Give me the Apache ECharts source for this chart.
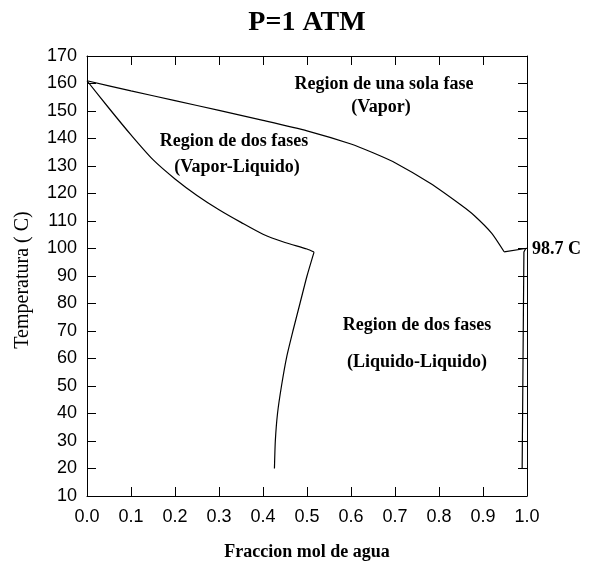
<!DOCTYPE html>
<html>
<head>
<meta charset="utf-8">
<script src="https://cdn.jsdelivr.net/npm/echarts@6/dist/echarts.min.js"></script>
<style>html,body{margin:0;padding:0;background:#fff}#c{width:592px;height:563px}</style>
</head>
<body>
<div id="c"></div>
<script>
// Vapor (dew) curve
const vaporX = [0, 0.1, 0.2, 0.3, 0.4, 0.5, 0.6, 0.65, 0.7, 0.78, 0.85, 0.88, 0.92, 0.948];
const vaporT = [161, 157.3, 153.8, 150.2, 146.6, 142.8, 138.0, 134.8, 131.2, 123.7, 115.8, 112.0, 105.5, 98.8];
// Segment from the vapor corner to the water boiling point
const vaporEndX = [0.948, 1.0];
const vaporEndT = [98.8, 100.1];
// Liquid (bubble) curve
const liqX = [0, 0.05, 0.1, 0.15, 0.2, 0.25, 0.3, 0.35, 0.4, 0.45, 0.5, 0.516];
const liqT = [161, 151, 141.3, 132.3, 125.3, 119.3, 114.1, 109.5, 105.2, 102.2, 99.8, 98.7];
// Liquid-liquid, organic-rich branch
const llLeftX = [0.516, 0.5, 0.484, 0.468, 0.454, 0.442, 0.433, 0.428, 0.426];
const llLeftT = [98.7, 90, 80, 70, 60.7, 50, 40, 30, 20];
// Liquid-liquid, water-rich branch
const llRightX = [0.989, 0.990, 0.991, 0.992, 0.993, 0.997];
const llRightT = [20, 40, 60, 80, 98.7, 100];

const zip = (a, b) => a.map((v, i) => [v, b[i]]);
const serif = "'Liberation Serif', 'DejaVu Serif', serif";
const sans = "'Liberation Sans', Arial, sans-serif";

const chart = echarts.init(document.getElementById('c'));
const lineStyle = { color: '#000', width: 1.2 };
const mkLine = (d, smooth) => ({ type: 'line', data: d, symbol: 'none', smooth: smooth || false, lineStyle, silent: true, animation: false });

const axisCommon = {
  axisLine: { show: true, onZero: false, lineStyle: { color: '#000', width: 1 } },
  axisTick: { show: true, inside: true, length: 9, lineStyle: { color: '#000' } },
  splitLine: { show: false }
};

chart.setOption({
  animation: false,
  grid: { left: 87, top: 56, width: 440, height: 440 },
  xAxis: [
    Object.assign({ type: 'value', min: 0, max: 1, interval: 0.1, position: 'bottom',
      axisLabel: { margin: 12, fontFamily: sans, fontSize: 18, color: '#000', formatter: v => v.toFixed(1) } }, axisCommon),
    Object.assign({ type: 'value', min: 0, max: 1, interval: 0.1, position: 'top',
      axisLabel: { show: false } }, axisCommon)
  ],
  yAxis: [
    Object.assign({ type: 'value', min: 10, max: 170, interval: 10, position: 'left',
      axisLabel: { margin: 10, fontFamily: sans, fontSize: 18, color: '#000' } }, axisCommon),
    Object.assign({ type: 'value', min: 10, max: 170, interval: 10, position: 'right',
      axisLabel: { show: false } }, axisCommon)
  ],
  series: [
    mkLine(zip(vaporX, vaporT), 0.2),
    mkLine(zip(vaporEndX, vaporEndT)),
    mkLine(zip(liqX, liqT), 0.25),
    mkLine(zip(llLeftX, llLeftT), 0.2),
    mkLine(zip(llRightX, llRightT))
  ],
  graphic: [
    { type: 'text', x: 307, y: 23, style: { text: 'P=1 ATM', font: 'bold 28px ' + serif, fill: '#000', textAlign: 'center', textVerticalAlign: 'middle' } },
    { type: 'text', x: 307, y: 552, style: { text: 'Fraccion mol de agua', font: 'bold 18px ' + serif, fill: '#000', textAlign: 'center', textVerticalAlign: 'middle' } },
    { type: 'text', x: 23, y: 280, rotation: Math.PI / 2, style: { text: 'Temperatura ( C)', font: '20px ' + serif, fill: '#000', textAlign: 'center', textVerticalAlign: 'middle' } },
    { type: 'text', x: 384, y: 84, style: { text: 'Region de una sola fase', font: 'bold 18px ' + serif, fill: '#000', textAlign: 'center', textVerticalAlign: 'middle' } },
    { type: 'text', x: 381, y: 107, style: { text: '(Vapor)', font: 'bold 18px ' + serif, fill: '#000', textAlign: 'center', textVerticalAlign: 'middle' } },
    { type: 'text', x: 234, y: 141, style: { text: 'Region de dos fases', font: 'bold 18px ' + serif, fill: '#000', textAlign: 'center', textVerticalAlign: 'middle' } },
    { type: 'text', x: 237, y: 167, style: { text: '(Vapor-Liquido)', font: 'bold 18px ' + serif, fill: '#000', textAlign: 'center', textVerticalAlign: 'middle' } },
    { type: 'text', x: 417, y: 325, style: { text: 'Region de dos fases', font: 'bold 18px ' + serif, fill: '#000', textAlign: 'center', textVerticalAlign: 'middle' } },
    { type: 'text', x: 417, y: 362, style: { text: '(Liquido-Liquido)', font: 'bold 18px ' + serif, fill: '#000', textAlign: 'center', textVerticalAlign: 'middle' } },
    { type: 'text', x: 532, y: 249, style: { text: '98.7 C', font: 'bold 18px ' + serif, fill: '#000', textAlign: 'left', textVerticalAlign: 'middle' } }
  ]
});
</script>
</body>
</html>
